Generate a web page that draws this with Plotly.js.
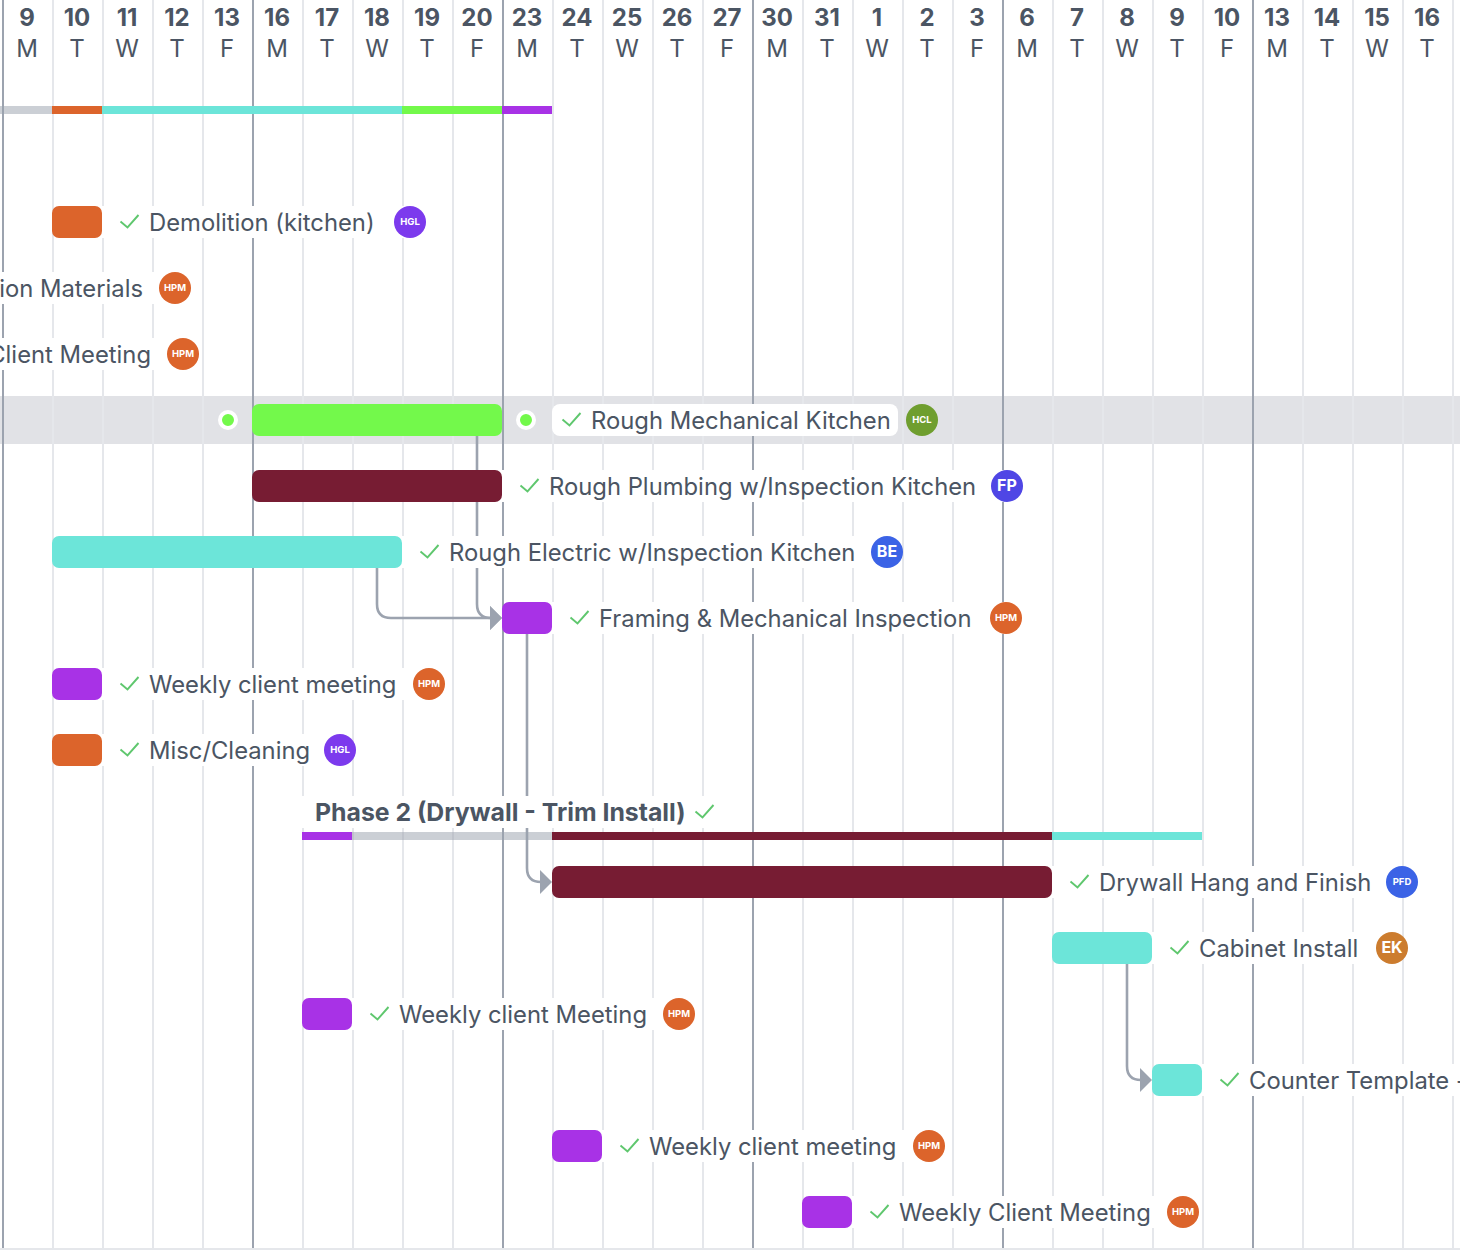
<!DOCTYPE html>
<html>
<head>
<meta charset="utf-8">
<script src="https://cdn.plot.ly/plotly-3.0.1.min.js"></script>
<style>html,body{margin:0;padding:0;background:#fff;overflow:hidden}#chart{width:1460px;height:1254px}</style>
</head>
<body>
<div id="chart"></div>
<script>
// ---- Data (x in working days from Monday the 9th, y in schedule rows) ----
const dayNumbers = [9,10,11,12,13,16,17,18,19,20,23,24,25,26,27,30,31,1,2,3,6,7,8,9,10,13,14,15,16];
const dayLetters = ['M','T','W','T','F','M','T','W','T','F','M','T','W','T','F','M','T','W','T','F','M','T','W','T','F','M','T','W','T'];

const ORANGE='#dc642b', CYAN='#6ce5d9', GREEN='#73f94b', PURPLE='#a832e6', MAROON='#771c33', GREY='rgba(156,163,175,0.52)';

const summaryRows   = [0,0,0,0,0, 11,11,11,11];
const summaryStarts = [-1,1,2,8,10, 6,7,11,21];
const summaryDays   = [2,1,6,2,1, 1,4,10,3];
const summaryColors = [GREY,ORANGE,CYAN,GREEN,PURPLE, PURPLE,GREY,MAROON,CYAN];

const taskRows   = [2,5,6,7,8,9,10,12,13,14,15,16,17];
const taskStarts = [1,5,5,1,10,1,1,11,21,6,23,11,16];
const taskDays   = [1,5,5,7,1,1,1,10,2,1,1,1,1];
const taskColors = [ORANGE,GREEN,MAROON,CYAN,PURPLE,PURPLE,ORANGE,MAROON,CYAN,PURPLE,CYAN,PURPLE,PURPLE];

const labelRows   = [2,5,6,7,8,9,10,12,13,14,15,16,17];
const labelTexts  = ['Demolition (kitchen)','Rough Mechanical Kitchen','Rough Plumbing w/Inspection Kitchen','Rough Electric w/Inspection Kitchen','Framing & Mechanical Inspection','Weekly client meeting','Misc/Cleaning','Drywall Hang and Finish','Cabinet Install','Weekly client Meeting','Counter Template -','Weekly client meeting','Weekly Client Meeting'];
const labelStarts = [2.94,11.78,10.94,8.94,11.94,2.94,2.94,21.94,23.94,7.94,24.94,12.94,17.94];
const labelMaskFrom = [2,11,10,8,11,2,2,21,23,7,24,12,17];
const labelMaskTo   = [8.16,17.92,20.1,17.7,20.08,8.54,6.76,28,27.8,13.54,29.2,18.54,23.62];

const cutRows  = [3,4];
const cutTexts = ['ion Materials','Client Meeting'];
const cutEnds  = [2.82,2.98];
const cutMaskTo= [3.46,3.62];

const avatarRows  = [2,3,4,5,6,7,8,9,10,12,13,14,16,17];
const avatarDays  = [8.16,3.46,3.62,18.4,20.1,17.7,20.08,8.54,6.76,28,27.8,13.54,18.54,23.62];
const avatarTexts = ['HGL','HPM','HPM','HCL','FP','BE','HPM','HPM','HGL','PFD','EK','HPM','HPM','HPM'];
const avatarColors= ['#7c3aed',ORANGE,ORANGE,'#6f9e2f','#4f46e5','#3b63e6',ORANGE,ORANGE,'#7c3aed','#3b63e6','#cc7c2e',ORANGE,ORANGE,ORANGE];

const dotDays = [4.52,10.48];
const dotRows = [5,5];

const depFromDay = [9.5,7.5,10.5,22.5];
const depFromRow = [5,7,8,13];
const depToDay   = [10,10,11,23];
const depToRow   = [8,8,12,15];

const phaseTitle = 'Phase 2 (Drywall - Trim Install)';
const phaseTitleDay = 6.26;
const phaseCheckDay = 13.86;
const phaseMaskFrom = 6;
const phaseMaskDays = 8.4;

// ---- Scale helpers (pixel lengths expressed in axis units) ----
const PXD = 50, PXR = 66, TOP = 90, BOTTOM = 1248;
const dx = p => p / PXD, dy = p => p / PXR;
const TEXT = '#4b5563', FONT = 'Inter, "Noto Sans", sans-serif', LINE = '#9ca3af';
const TEXT_NUDGE = dy(3), AVATAR_NUDGE = dy(1);

// ---- Checks ----
const checkX = [], checkY = [];
function addCheck(startDay, row){
  const l = startDay - dx(28.5);
  checkX.push(l, l + dx(7), l + dx(18), null);
  checkY.push(row + dy(-0.5), row + dy(5.5), row + dy(-7), null);
}
labelRows.forEach((r,i)=>addCheck(labelStarts[i], r));
const phaseTitleRow = 11 + dy(-4);
addCheck(phaseCheckDay + dx(29), phaseTitleRow);

// ---- Connectors ----
const shapes = [{type:'rect',layer:'below',xref:'paper',yref:'y',x0:0,x1:1,y0:5-dy(24),y1:5+dy(24),fillcolor:'#e1e2e6',line:{width:0}}];
depFromDay.forEach((fx,i)=>{
  const ty = depToRow[i], tx = depToDay[i], fy = depFromRow[i];
  const rx = dx(14), ry = dy(14);
  const tip = tx - dx(11);
  shapes.push({type:'path',layer:'between',xref:'x',yref:'y',line:{color:LINE,width:2.6},
    path:`M ${fx} ${fy} L ${fx} ${ty-ry} Q ${fx} ${ty} ${Math.min(fx+rx,tip)} ${ty} L ${tip} ${ty}`});
  shapes.push({type:'path',layer:'between',xref:'x',yref:'y',fillcolor:LINE,line:{width:0},
    path:`M ${tx} ${ty} L ${tx-dx(12)} ${ty-dy(12)} L ${tx-dx(12)} ${ty+dy(12)} Z`});
});

// ---- Traces ----
const maskIdx = labelRows.map((_,i)=>i).filter(i=>labelRows[i]!==5);
const maskBar = (y,base,x,radius,width)=>({type:'bar',orientation:'h',y,base,x,width,
  marker:{color:'#ffffff',cornerradius:radius,line:{width:0}},hoverinfo:'skip'});

const traces = [
  maskBar(maskIdx.map(i=>labelRows[i]).concat(cutRows),
          maskIdx.map(i=>labelMaskFrom[i]).concat([-1,-1]),
          maskIdx.map(i=>labelMaskTo[i]-labelMaskFrom[i]).concat(cutMaskTo.map(v=>v+1)),0,dy(32)),
  maskBar([5],[labelMaskFrom[1]],[labelMaskTo[1]-labelMaskFrom[1]],8,dy(32)),
  maskBar([phaseTitleRow],[phaseMaskFrom],[phaseMaskDays],0,dy(32)),
  {type:'bar',orientation:'h',y:summaryRows.map(r=>r+dy(20)),base:summaryStarts,x:summaryDays,width:dy(8),
   marker:{color:summaryColors,line:{width:0}}},
  {type:'bar',orientation:'h',y:taskRows,base:taskStarts,x:taskDays,width:dy(32),
   marker:{color:taskColors,cornerradius:7,line:{width:0}}},
  {type:'scatter',mode:'lines',x:checkX,y:checkY,line:{color:'#5fc76e',width:1.9},connectgaps:false},
  {type:'scatter',mode:'text',x:labelStarts,y:labelRows.map(r=>r+TEXT_NUDGE),text:labelTexts,textposition:'middle right',
   textfont:{family:FONT,size:23.8,color:TEXT}},
  {type:'scatter',mode:'text',x:cutEnds,y:cutRows.map(r=>r+TEXT_NUDGE),text:cutTexts,textposition:'middle left',
   textfont:{family:FONT,size:23.8,color:TEXT}},
  {type:'scatter',mode:'text',x:[phaseTitleDay],y:[phaseTitleRow+TEXT_NUDGE],text:[phaseTitle],textposition:'middle right',
   textfont:{family:FONT,size:24.8,color:TEXT,weight:700}},
  {type:'scatter',mode:'markers',x:avatarDays,y:avatarRows,
   marker:{size:32,color:avatarColors,line:{width:0}}},
  {type:'scatter',mode:'text',x:avatarDays,y:avatarRows.map(r=>r+AVATAR_NUDGE),text:avatarTexts,textposition:'middle center',
   textfont:{family:FONT,color:'#ffffff',weight:700,size:avatarTexts.map(t=>t.length>2?9.5:16)}},
  {type:'scatter',mode:'markers',xaxis:'x2',x:dotDays,y:dotRows,
   marker:{size:16,color:GREEN,line:{color:'#ffffff',width:4}}}
];

const xRange = [-dx(2), (1460-2)/PXD];
const layout = {
  width:1460,height:1254,margin:{l:0,r:0,t:0,b:6,pad:0},
  paper_bgcolor:'#ffffff',plot_bgcolor:'#ffffff',showlegend:false,hovermode:false,barmode:'overlay',
  font:{family:FONT,color:TEXT},
  xaxis:{type:'linear',range:xRange,tick0:0.02,dtick:5,showgrid:true,gridcolor:LINE,gridwidth:2,zeroline:false,
    showticklabels:false,ticks:'',showline:true,linecolor:'#e5e7eb',linewidth:2,
    minor:{tick0:0.02,dtick:1,showgrid:true,gridcolor:'#e5e7eb',gridwidth:2,ticks:''}},
  xaxis2:{type:'linear',overlaying:'x',matches:'x',anchor:'y',side:'top',range:xRange,showgrid:false,zeroline:false,
    tickmode:'array',tickvals:dayNumbers.map((_,i)=>i+0.5),
    ticktext:dayNumbers.map((d,i)=>`<b>${d}</b><br>${dayLetters[i]}`),
    ticks:'',ticklen:0,ticklabelposition:'inside',ticklabelstandoff:6,tickangle:0,tickfont:{family:FONT,size:24,color:TEXT}},
  yaxis:{range:[(BOTTOM-TOP)/PXR,-TOP/PXR],showgrid:false,zeroline:false,showticklabels:false,ticks:'',showline:false},
  shapes
};
Plotly.newPlot('chart',traces,layout,{staticPlot:true,displayModeBar:false});
</script>
</body>
</html>
